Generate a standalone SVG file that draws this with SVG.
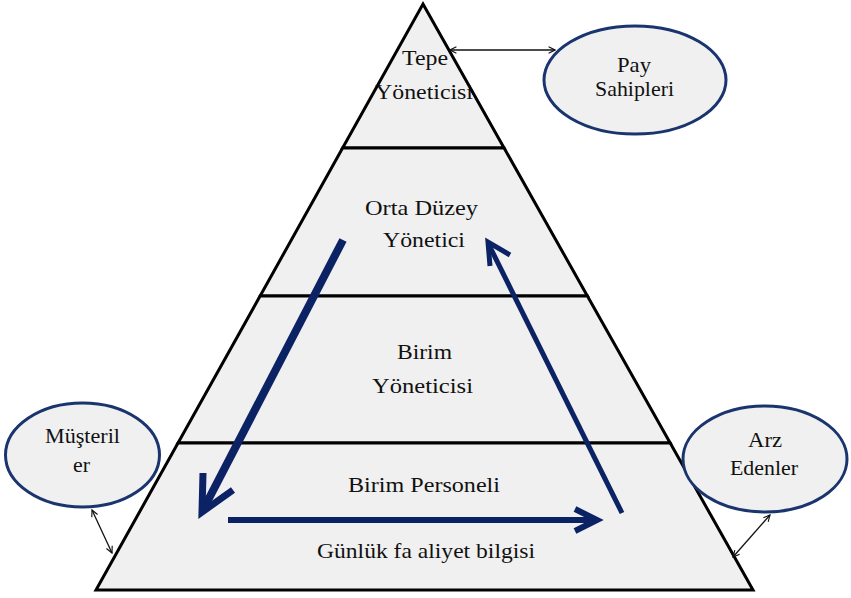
<svg xmlns="http://www.w3.org/2000/svg" width="851" height="598" viewBox="0 0 851 598">
  <style>
    .tier { fill: #f0f0f0; stroke: #000; stroke-width: 3; stroke-linejoin: miter; }
    .party { fill: #f0f0f0; stroke: #1a356e; stroke-width: 3; }
    .lbl { font-family: "Liberation Serif", "Times New Roman", serif; font-size: 22px; fill: #111; text-anchor: middle; }
    .flow { fill: none; stroke: #0b2264; stroke-linecap: butt; stroke-linejoin: miter; }
    .link { fill: none; stroke: #111; stroke-width: 1.3; marker-start: url(#tip); marker-end: url(#tip); }
  </style>
  <defs>
    <marker id="tip" viewBox="0 0 10 10" refX="9" refY="5" markerWidth="8" markerHeight="8" orient="auto-start-reverse" markerUnits="userSpaceOnUse">
      <path d="M1,1 L9,5 L1,9" fill="none" stroke="#111" stroke-width="1.4"/>
    </marker>
  </defs>

  <rect width="851" height="598" fill="#fff"/>

  <!-- pyramid tiers -->
  <g id="tepe-yoneticisi">
    <polygon class="tier" points="423,4 504.1,148 342.6,148"/>
    <text class="lbl" x="425" y="65" textLength="46" lengthAdjust="spacingAndGlyphs">Tepe</text>
    <text class="lbl" x="424" y="99" textLength="98" lengthAdjust="spacingAndGlyphs">Yöneticisi</text>
  </g>
  <g id="orta-duzey-yonetici">
    <polygon class="tier" points="342.6,148 504.1,148 587.4,296 260.1,296"/>
    <text class="lbl" x="421.5" y="215" textLength="113" lengthAdjust="spacingAndGlyphs">Orta Düzey</text>
    <text class="lbl" x="424" y="247" textLength="82" lengthAdjust="spacingAndGlyphs">Yönetici</text>
  </g>
  <g id="birim-yoneticisi">
    <polygon class="tier" points="260.1,296 587.4,296 670.2,443 178,443"/>
    <text class="lbl" x="424.5" y="359" textLength="55" lengthAdjust="spacingAndGlyphs">Birim</text>
    <text class="lbl" x="422.5" y="393" textLength="101" lengthAdjust="spacingAndGlyphs">Yöneticisi</text>
  </g>
  <g id="birim-personeli">
    <polygon class="tier" points="178,443 670.2,443 753,590 96,590"/>
    <text class="lbl" x="424" y="492" textLength="152" lengthAdjust="spacingAndGlyphs">Birim Personeli</text>
    <text class="lbl" x="426" y="558" textLength="218" lengthAdjust="spacingAndGlyphs">Günlük fa aliyet bilgisi</text>
  </g>

  <!-- outside parties -->
  <g id="pay-sahipleri">
    <ellipse class="party" cx="635" cy="80" rx="91" ry="54"/>
    <text class="lbl" x="634" y="72" textLength="34" lengthAdjust="spacingAndGlyphs">Pay</text>
    <text class="lbl" x="634.5" y="96" textLength="79" lengthAdjust="spacingAndGlyphs">Sahipleri</text>
  </g>
  <g id="musteriler">
    <ellipse class="party" cx="82.5" cy="455" rx="77" ry="52"/>
    <text class="lbl" x="82.5" y="443" textLength="75" lengthAdjust="spacingAndGlyphs">Müşteril</text>
    <text class="lbl" x="81.5" y="472" textLength="17" lengthAdjust="spacingAndGlyphs">er</text>
  </g>
  <g id="arz-edenler">
    <ellipse class="party" cx="765" cy="459" rx="82" ry="53"/>
    <text class="lbl" x="765" y="447" textLength="34" lengthAdjust="spacingAndGlyphs">Arz</text>
    <text class="lbl" x="764" y="475" textLength="68" lengthAdjust="spacingAndGlyphs">Edenler</text>
  </g>

  <!-- connectors -->
  <g id="connectors">
    <line class="link" x1="450" y1="50" x2="555" y2="50"/>
    <line class="link" x1="92" y1="510" x2="112" y2="553"/>
    <line class="link" x1="770" y1="515" x2="733" y2="557"/>

    <!-- information flow: down the hierarchy -->
    <path class="flow" stroke-width="8" d="M343,240 L204,508"/>
    <path class="flow" stroke-width="7" d="M203,473 L202,512 L233,490"/>
    <!-- daily activity flow -->
    <path class="flow" stroke-width="6" d="M228,520 L594,520"/>
    <path class="flow" stroke-width="6" d="M575,509 L597,520 L575,531"/>
    <!-- reporting up the hierarchy -->
    <path class="flow" stroke-width="5" d="M622,513 L489,245"/>
    <path class="flow" stroke-width="5" d="M490,266 L488,242 L510,255"/>
  </g>
</svg>
